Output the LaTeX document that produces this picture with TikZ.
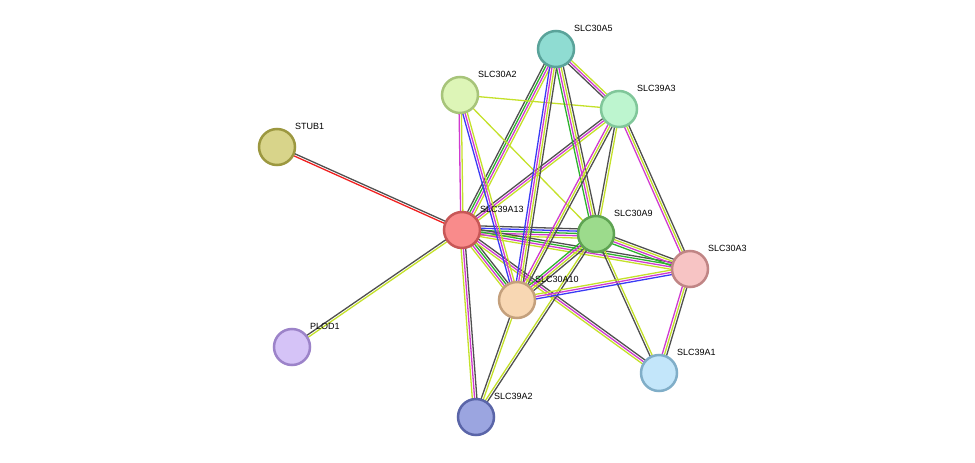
\documentclass[tikz,border=0pt]{standalone}
\usepackage{fontspec}
\setmainfont{Liberation Sans}
\usetikzlibrary{calc}
\definecolor{yg}{HTML}{C4E12A}
\definecolor{mg}{HTML}{D03AD0}
\definecolor{gn}{HTML}{2DB32D}
\definecolor{bl}{HTML}{3A3AF5}
\definecolor{bk}{HTML}{505050}
\definecolor{rd}{HTML}{F02020}
\tikzset{x=1pt,y=-1pt,
 prot/.style={circle,minimum size=36pt,inner sep=0pt,line width=2.5pt},
 lab/.style={anchor=west,font=\fontsize{9}{10}\selectfont,inner sep=0pt}}
\newcommand{\edg}[4]{% a b n colors
 \foreach \c [count=\i] in {#4}{
  \pgfmathsetmacro{\o}{(\i-(#3+1)/2)*2.3}
  \draw[\c,line width=1.3pt] ($(#1)!\o pt!90:(#2)$) -- ($(#2)!\o pt!-90:(#1)$);}}
\newcommand{\prt}[5]{% name x y fill draw
 \definecolor{f#1}{HTML}{#4}\definecolor{d#1}{HTML}{#5}
 \coordinate (#1) at (#2,#3);}
\newcommand{\drawprt}[3]{\node[prot,fill=f#1,draw=d#1] (#1n) at (#1) {};
 \node[lab] (#1l) at ($(#1)+(18,-21)$) {#1};}
\begin{document}
\begin{tikzpicture}
\useasboundingbox (0,0) rectangle (975,463);
\prt{SLC30A5}{556}{49}{8FDCD2}{5AA39A}
\prt{SLC30A2}{460}{95}{DDF5B7}{A7C47A}
\prt{SLC39A3}{619}{109}{BDF5CF}{80C79A}
\prt{STUB1}{277}{147}{D8D48A}{9C9840}
\prt{SLC39A13}{462}{230}{F98B8B}{C85757}
\prt{SLC30A9}{596}{234}{9CDB8C}{5EA352}
\prt{SLC30A3}{690}{269}{F7C4C4}{C08585}
\prt{SLC30A10}{517}{300}{F8D7B3}{C4A07C}
\prt{PLOD1}{292}{347}{D5C3F7}{9C83C9}
\prt{SLC39A1}{659}{373}{C3E6FA}{80AEC8}
\prt{SLC39A2}{476}{417}{9BA5E0}{5A65A8}
\edg{STUB1}{SLC39A13}{2}{rd,bk}
\edg{PLOD1}{SLC39A13}{2}{yg,bk}
\edg{SLC39A13}{SLC39A2}{3}{yg,mg,bk}
\edg{SLC39A13}{SLC30A5}{4}{yg,mg,gn,bk}
\edg{SLC39A13}{SLC30A2}{2}{yg,mg}
\edg{SLC39A13}{SLC39A3}{3}{yg,mg,bk}
\edg{SLC39A13}{SLC30A9}{5}{yg,mg,gn,bl,bk}
\edg{SLC39A13}{SLC30A3}{4}{yg,mg,gn,bk}
\edg{SLC39A13}{SLC30A10}{4}{yg,mg,gn,bk}
\edg{SLC39A13}{SLC39A1}{3}{yg,mg,bk}
\edg{SLC30A2}{SLC39A3}{1}{yg}
\edg{SLC30A2}{SLC30A10}{3}{bl,mg,yg}
\edg{SLC30A2}{SLC30A9}{1}{yg}
\edg{SLC30A5}{SLC39A3}{3}{bk,mg,yg}
\edg{SLC30A5}{SLC30A9}{4}{gn,mg,yg,bk}
\edg{SLC30A5}{SLC30A10}{4}{bl,mg,yg,bk}
\edg{SLC39A3}{SLC30A10}{3}{mg,yg,bk}
\edg{SLC39A3}{SLC30A9}{2}{bk,yg}
\edg{SLC39A3}{SLC30A3}{3}{mg,yg,bk}
\edg{SLC30A9}{SLC30A3}{4}{gn,mg,yg,bk}
\edg{SLC30A9}{SLC30A10}{4}{gn,mg,yg,bk}
\edg{SLC30A9}{SLC39A1}{2}{bk,yg}
\edg{SLC30A9}{SLC39A2}{2}{yg,bk}
\edg{SLC30A10}{SLC30A3}{3}{bl,mg,yg}
\edg{SLC30A10}{SLC39A2}{2}{bk,yg}
\edg{SLC30A3}{SLC39A1}{3}{mg,yg,bk}
\foreach \n in {SLC30A5,SLC30A2,SLC39A3,STUB1,SLC39A13,SLC30A9,SLC30A3,SLC30A10,PLOD1,SLC39A1,SLC39A2}{\drawprt{\n}{}{}}
\end{tikzpicture}
\end{document}
